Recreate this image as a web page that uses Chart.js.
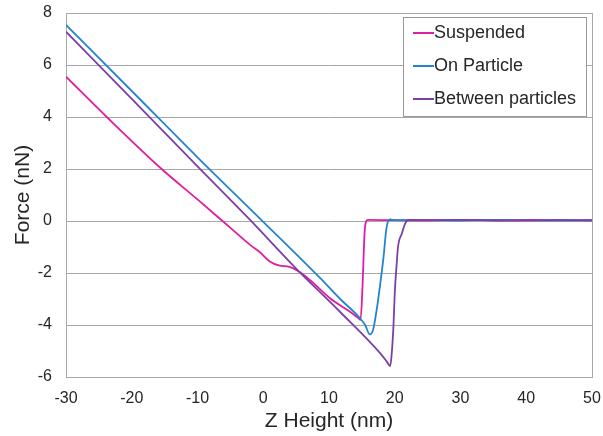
<!DOCTYPE html>
<html>
<head>
<meta charset="utf-8">
<style>
  html, body { margin: 0; padding: 0; background: #fff; }
</style>
<script src="https://cdn.jsdelivr.net/npm/chart.js@4.4.1/dist/chart.umd.min.js"></script>
</head>
<body>
<canvas id="forceChart" width="603" height="436"></canvas>
<script>
// Force curves (nN) against Z height (nm)
const seriesNames = ['Suspended', 'On Particle', 'Between particles'];
const seriesColors = ['#DE1E9E', '#2385D0', '#7B3FA6'];

const suspendedX = [-30, -23.8, -15.45, -10, -6.2, -4.6, -2, -0.5, 1, 2.5, 4, 5.6, 7.1, 10.15, 13.2, 14.5, 14.8, 15.1, 15.4, 15.6, 15.9, 20, 25, 30, 35, 40, 45, 50];
const suspendedY = [5.55, 4.0, 2.0, 0.83, 0, -0.35, -0.92, -1.2, -1.56, -1.72, -1.76, -1.97, -2.27, -2.97, -3.49, -3.74, -3.8, -2.5, -0.5, -0.05, 0.04, 0.03, 0.02, 0.04, 0.03, 0.02, 0.03, 0.03];

const particleX = [-30, -20, -10, 0, 8.6, 11.7, 14.5, 15.5, 16.2, 16.7, 17.25, 17.8, 18.3, 18.7, 19.0, 19.3, 20, 25, 30, 35, 40, 45, 50];
const particleY = [7.54, 5.0, 2.45, -0.03, -2.18, -3.0, -3.68, -4.0, -4.36, -4.19, -3.42, -2.4, -1.37, -0.35, 0, 0.06, 0.03, 0.03, 0.02, 0.04, 0.03, 0.02, 0.03];

const betweenX = [-30, -20, -10, -2, 5, 11.7, 17.8, 18.8, 19.3, 19.5, 19.8, 20.0, 20.3, 20.5, 21.1, 21.6, 22.1, 25, 30, 35, 40, 45, 50];
const betweenY = [7.28, 4.7, 2.1, 0.04, -1.83, -3.5, -5.09, -5.41, -5.58, -5.22, -4.06, -2.78, -1.63, -0.99, -0.47, -0.09, 0.04, 0.03, 0.04, 0.02, 0.03, 0.03, 0.02];

const xTicks = [-30, -20, -10, 0, 10, 20, 30, 40, 50];
const yTicks = [-6, -4, -2, 0, 2, 4, 6, 8];

function toPoints(xs, ys) {
  return xs.map((x, i) => ({ x: x, y: ys[i] }));
}

const gridGray = '#A8A8A8';
const textColor = '#262626';

// boxed legend drawn inside the plot, top right
const legendBox = {
  id: 'legendBox',
  afterDatasetsDraw(chart) {
    const ctx = chart.ctx;
    const area = chart.chartArea;
    const w = 183, h = 99;
    const left = area.right - 6 - w;
    const top = area.top + 4;
    ctx.save();
    ctx.fillStyle = '#fff';
    ctx.fillRect(left, top, w, h);
    ctx.strokeStyle = '#999';
    ctx.lineWidth = 1;
    ctx.strokeRect(left + 0.5, top + 0.5, w, h);
    ctx.font = '18px "Liberation Sans", Arial, sans-serif';
    ctx.textBaseline = 'middle';
    ctx.fillStyle = textColor;
    seriesNames.forEach((name, i) => {
      const cy = top + 16 + i * 33;
      ctx.strokeStyle = seriesColors[i];
      ctx.lineWidth = 2;
      ctx.beginPath();
      ctx.moveTo(left + 10, cy);
      ctx.lineTo(left + 31, cy);
      ctx.stroke();
      ctx.fillText(name, left + 31, cy);
    });
    ctx.restore();
  }
};

// right edge of the plot frame
const plotFrame = {
  id: 'plotFrame',
  beforeDatasetsDraw(chart) {
    const a = chart.chartArea;
    const ctx = chart.ctx;
    ctx.save();
    ctx.strokeStyle = gridGray;
    ctx.lineWidth = 1;
    ctx.beginPath();
    ctx.moveTo(Math.round(a.right) + 0.5, a.top);
    ctx.lineTo(Math.round(a.right) + 0.5, a.bottom);
    ctx.stroke();
    ctx.restore();
  }
};

const tickFont = { family: '"Liberation Sans", Arial, sans-serif', size: 16 };
const titleFont = { family: '"Liberation Sans", Arial, sans-serif', size: 21 };

new Chart(document.getElementById('forceChart'), {
  type: 'scatter',
  data: {
    datasets: [
      { label: seriesNames[0], data: toPoints(suspendedX, suspendedY), borderColor: seriesColors[0], order: 3 },
      { label: seriesNames[1], data: toPoints(particleX, particleY), borderColor: seriesColors[1], order: 2 },
      { label: seriesNames[2], data: toPoints(betweenX, betweenY), borderColor: seriesColors[2], order: 1 }
    ]
  },
  options: {
    responsive: false,
    animation: false,
    devicePixelRatio: 1,
    showLine: true,
    layout: { padding: { top: 13, right: 11, left: 0, bottom: 0 } },
    elements: {
      point: { radius: 0, hoverRadius: 0 },
      line: { borderWidth: 1.8, cubicInterpolationMode: 'monotone', fill: false }
    },
    plugins: {
      legend: { display: false },
      tooltip: { enabled: false }
    },
    scales: {
      x: {
        type: 'linear',
        min: -30,
        max: 50,
        afterBuildTicks: (scale) => { scale.ticks = xTicks.map(v => ({ value: v })); },
        afterFit: (scale) => {
          scale.height = 59;
          scale.paddingLeft = 0;
          scale.paddingRight = 0;
        },
        grid: { display: false, drawTicks: false },
        border: { display: true, color: gridGray },
        ticks: { font: tickFont, color: textColor, padding: 12, maxRotation: 0 },
        title: { display: true, text: 'Z Height (nm)', font: titleFont, color: textColor, padding: { top: 0, bottom: 2 } }
      },
      y: {
        type: 'linear',
        min: -6,
        max: 8,
        afterBuildTicks: (scale) => { scale.ticks = yTicks.map(v => ({ value: v })); },
        afterFit: (scale) => {
          scale.width = 66;
          scale.paddingTop = 0;
          scale.paddingBottom = 0;
        },
        grid: { color: gridGray, lineWidth: 1, drawTicks: false },
        border: { display: true, color: gridGray },
        ticks: { font: tickFont, color: textColor, padding: 14 },
        title: { display: true, text: 'Force (nN)', font: titleFont, color: textColor, padding: { top: 11, bottom: 0 } }
      }
    }
  },
  plugins: [plotFrame, legendBox]
});
</script>
</body>
</html>
